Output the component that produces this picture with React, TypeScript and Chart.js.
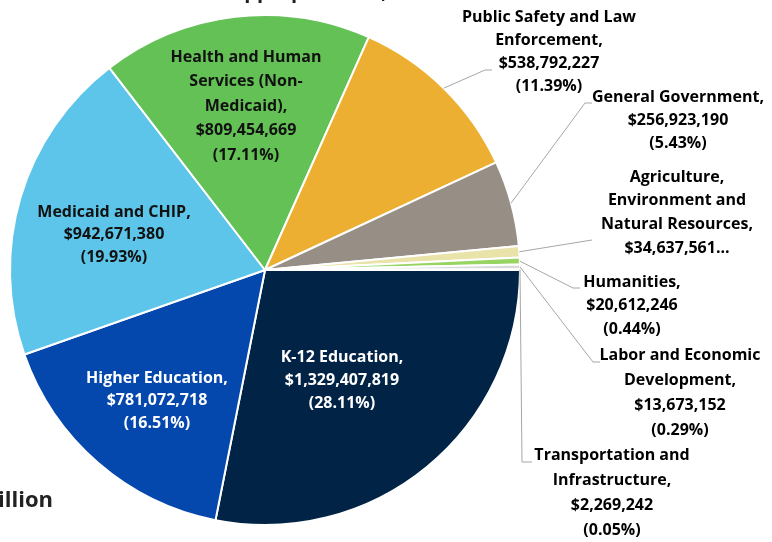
import React, { useEffect, useRef } from "react";
import { Chart, registerables } from "chart.js";

Chart.register(...registerables);

// ---- Data ----
const categories = [
  "K-12 Education",
  "Higher Education",
  "Medicaid and CHIP",
  "Health and Human Services (Non-Medicaid)",
  "Public Safety and Law Enforcement",
  "General Government",
  "Agriculture, Environment and Natural Resources",
  "Humanities",
  "Labor and Economic Development",
  "Transportation and Infrastructure",
];
const values = [
  1329407819, 781072718, 942671380, 809454669, 538792227, 256923190, 34637561,
  20612246, 13673152, 2269242,
];
const percentLabels = [
  "28.11%", "16.51%", "19.93%", "17.11%", "11.39%", "5.43%", "0.73%", "0.44%", "0.29%", "0.05%",
];
// How each category name wraps in its data label
const nameLines: string[][] = [
  ["K-12 Education,"],
  ["Higher Education,"],
  ["Medicaid and CHIP,"],
  ["Health and Human", "Services (Non-", "Medicaid),"],
  ["Public Safety and Law", "Enforcement,"],
  ["General Government,"],
  ["Agriculture,", "Environment and", "Natural Resources,"],
  ["Humanities,"],
  ["Labor and Economic", "Development,"],
  ["Transportation and", "Infrastructure,"],
];
const truncatedLabels = [false, false, false, false, false, false, true, false, false, false];
const titleText = "FY 2025 General Fund Appropriations,";
const totalText = "Total: $4.73 Billion";

// ---- Styles ----
const colors = [
  "#002346", "#0447ad", "#5cc5e9", "#63c155", "#edaf32", "#978f86",
  "#e9e3a9", "#98d462", "#d9d9d9", "#a6a6a6",
];
const textColors = ["#ffffff", "#ffffff", "#111111", "#111111", "#000000", "#000000", "#000000", "#000000", "#000000", "#000000"];

type Layout = { x: number; y: number; lh: number; leader?: number[][] };
const labelLayout: Layout[] = [
  { x: 342, y: 357, lh: 23 },
  { x: 157, y: 378, lh: 22.5 },
  { x: 114, y: 212, lh: 22.5 },
  { x: 246, y: 57, lh: 24.5 },
  { x: 549, y: 17, lh: 23.3, leader: [[485, 70], [492, 70]] },
  { x: 678, y: 97, lh: 23, leader: [[585, 103], [592, 103]] },
  { x: 677, y: 177, lh: 23.7, leader: [[592, 240]] },
  { x: 632, y: 282, lh: 23.5, leader: [[573, 288], [580, 288]] },
  { x: 680, y: 355, lh: 25, leader: [[593, 362], [600, 362]] },
  { x: 612, y: 455, lh: 25, leader: [[522, 462], [532, 462]] },
];

const FONT = "bold 16px 'Open Sans'";

function fmt(v: number) {
  return "$" + v.toLocaleString("en-US");
}

const labelPlugin = {
  id: "sliceLabels",
  afterDatasetsDraw(chart: any) {
    const ctx = chart.ctx as CanvasRenderingContext2D;
    const meta = chart.getDatasetMeta(0);
    ctx.save();
    meta.data.forEach((arc: any, i: number) => {
      const p = arc.getProps(["x", "y", "startAngle", "endAngle", "outerRadius"], true);
      const mid = (p.startAngle + p.endAngle) / 2;
      const lay = labelLayout[i];
      if (lay.leader) {
        ctx.strokeStyle = "#a6a6a6";
        ctx.lineWidth = 1;
        ctx.beginPath();
        ctx.moveTo(p.x + Math.cos(mid) * p.outerRadius, p.y + Math.sin(mid) * p.outerRadius);
        lay.leader.forEach(([lx, ly]) => ctx.lineTo(lx, ly));
        ctx.stroke();
      }
      const lines = [...nameLines[i]];
      if (truncatedLabels[i]) lines.push(fmt(values[i]) + "...");
      else {
        lines.push(fmt(values[i]));
        lines.push("(" + percentLabels[i] + ")");
      }
      ctx.font = FONT;
      ctx.fillStyle = textColors[i];
      ctx.textAlign = "center";
      ctx.textBaseline = "middle";
      lines.forEach((t, k) => ctx.fillText(t, lay.x, lay.y + k * lay.lh));
    });
    // partially visible title and total
    ctx.fillStyle = "#222222";
    ctx.textAlign = "right";
    ctx.textBaseline = "alphabetic";
    ctx.font = "bold 20px 'Open Sans'";
    ctx.fillText(titleText, 387, -2);
    ctx.font = "bold 22px 'Open Sans'";
    ctx.fillText(totalText, 53, 507);
    ctx.restore();
  },
};

export default function App() {
  const ref = useRef<HTMLCanvasElement>(null);
  useEffect(() => {
    if (!ref.current) return;
    const chart = new Chart(ref.current, {
      type: "pie",
      data: {
        labels: categories,
        datasets: [
          {
            data: values,
            backgroundColor: colors,
            borderColor: "#ffffff",
            borderWidth: 2,
          },
        ],
      },
      options: {
        animation: false,
        responsive: false,
        rotation: 90,
        layout: { padding: { left: 9, right: 251, top: 14, bottom: 16 } },
        plugins: { legend: { display: false }, tooltip: { enabled: false }, title: { display: false } },
      },
      plugins: [labelPlugin],
    });
    return () => chart.destroy();
  }, []);
  return (
    <div style={{ position: "fixed", left: 0, top: 0, width: 772, height: 542, background: "#fff" }}>
      <canvas ref={ref} width={772} height={542} style={{ display: "block" }} />
    </div>
  );
}
